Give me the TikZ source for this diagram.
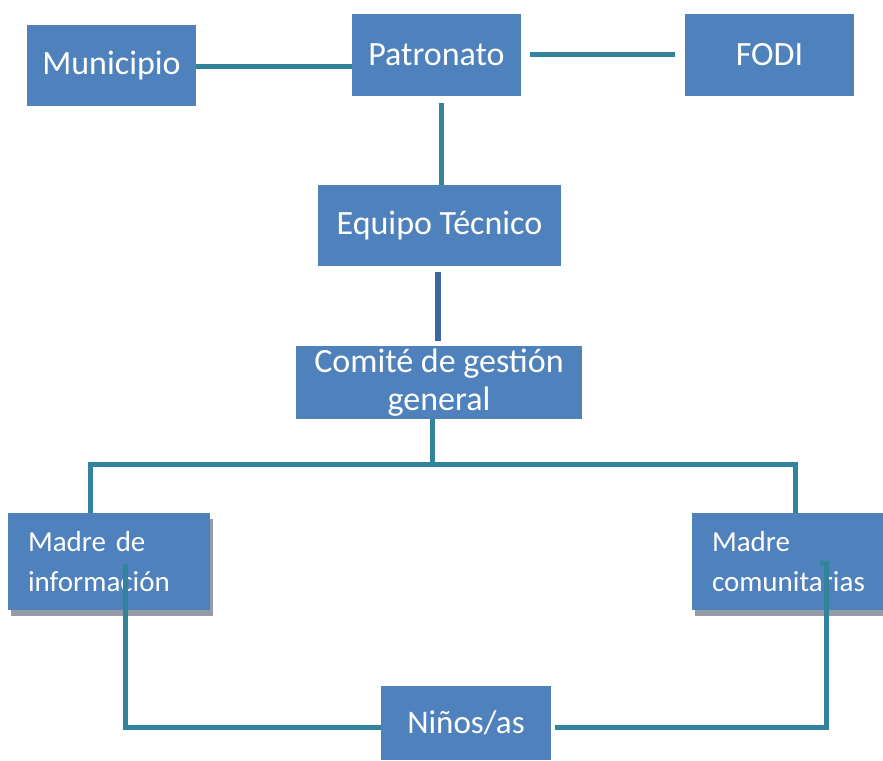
\documentclass[tikz,border=0pt]{standalone}
\usepackage{fontspec}
\setmainfont{Carlito}
\usepackage{tikz}
\usetikzlibrary{calc, positioning, shadows}
\definecolor{BoxBlue}{RGB}{79, 129, 189}
\definecolor{LinkTeal}{RGB}{49, 132, 155}
\definecolor{LinkNavy}{RGB}{61, 103, 160}
\definecolor{ShadowGrey}{RGB}{150, 155, 165}

\tikzset{
    unit/.style={rectangle, fill=BoxBlue, text=white, inner sep=0pt, font=\fontsize{34}{38}\selectfont, align=center},
    base/.style={unit, inner xsep=20pt, align=left, font=\fontsize{29}{40}\selectfont,
        drop shadow={shadow xshift=3pt, shadow yshift=-6pt, fill=ShadowGrey, opacity=1}},
    link/.style={LinkTeal, line width=5pt}
}

\begin{document}
\begin{tikzpicture}[x=1pt, y=-1pt]
    \useasboundingbox (0,0) rectangle (883,760);

    % Nivel superior
    \node[unit, minimum width=169pt, minimum height=81pt] (muni) at (111.5,65.5) {Municipio};
    \node[unit, minimum width=169pt, minimum height=82pt] (patr) at (436.5,55) {Patronato};
    \node[unit, minimum width=169pt, minimum height=81pt] (fodi) at (769.5,55) {FODI};

    % Nivel técnico
    \node[unit, minimum width=243pt, minimum height=81pt] (equipo) at (439.5,225.5) {Equipo Técnico};
    \node[unit, minimum width=286pt, minimum height=73pt] (comite) at (439,382.5) {Comité de gestión\\general};

    % Madres
    \node[base, text width=162pt, minimum height=97pt] (madreI) at (109,561.5) {Madre de\\información};
    \node[base, text width=151pt, minimum height=97pt] (madreC) at (787.5,561.5) {Madre\\comunitarias};

    % Niños
    \node[unit, minimum width=170pt, minimum height=74pt, font=\fontsize{33}{38}\selectfont] (ninos) at (466,723) {Niños/as};

    % Conexiones superiores
    \draw[link] ([yshift=-1pt]muni.east) -- ([yshift=-1pt]muni.east -| patr.west);
    \draw[link, shorten <=9pt, shorten >=10pt] (patr.east) -- (fodi.west);
    \draw[link, shorten >=7pt] ([xshift=1.5pt]equipo.north) -- ([xshift=1.5pt]equipo.north |- patr.south);
    \draw[LinkNavy, line width=6pt, shorten <=6pt, shorten >=5pt] ([xshift=-1.5pt]equipo.south) -- ([xshift=-1.5pt]equipo.south |- comite.north);

    % Ramas del comité
    \coordinate (bus) at ([xshift=-7pt, yshift=-45pt]comite.south);
    \draw[link] ([xshift=-7pt]comite.south) -- (bus) -| ([xshift=-19pt]madreI.north);
    \draw[link] (bus) -| ([xshift=7.5pt]madreC.north);

    % Ciclo inferior
    \coordinate (inI) at ([xshift=16pt, yshift=-2pt]madreI.center);
    \coordinate (inC) at ([xshift=38.5pt, yshift=-2pt]madreC.center);
    \draw[link] (inI) |- ([yshift=-4pt]ninos.west);
    \draw[link, shorten <=4pt] ([yshift=-4pt]ninos.east) -| (inC) -- ++(-6,0);
\end{tikzpicture}
\end{document}
